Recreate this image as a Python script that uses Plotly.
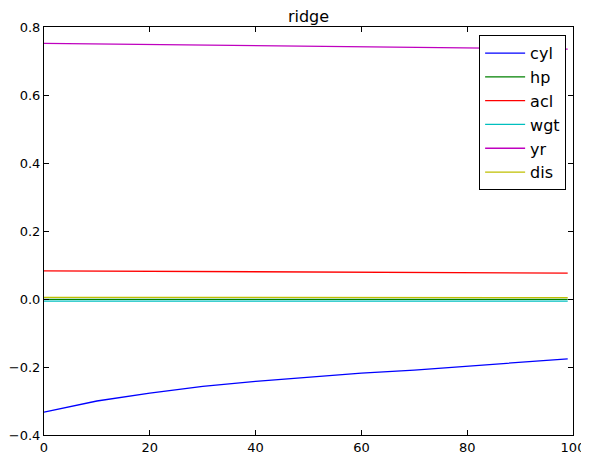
import plotly.graph_objects as go

x_cyl = [0, 10, 20, 30, 40, 50, 60, 70, 80, 90, 99]
cyl = [-0.333, -0.300, -0.277, -0.257, -0.242, -0.229, -0.218, -0.209, -0.198, -0.186, -0.176]

x_lin = [0, 99]
hp = [-0.001, -0.001]
acl = [0.083, 0.076]
wgt = [-0.006, -0.006]
yr = [0.752, 0.735]
dis = [0.005, 0.004]

names = ["cyl", "hp", "acl", "wgt", "yr", "dis"]
colors = ["#0000ff", "#008000", "#ff0000", "#00bfbf", "#bf00bf", "#bfbf00"]
xs = [x_cyl, x_lin, x_lin, x_lin, x_lin, x_lin]
ys = [cyl, hp, acl, wgt, yr, dis]

fig = go.Figure()
for n, c, xv, yv in zip(names, colors, xs, ys):
    fig.add_trace(go.Scatter(x=xv, y=yv, mode="lines", name=n,
                             line=dict(color=c, width=1.3)))

axis_common = dict(showgrid=False, zeroline=False, showline=True, linecolor="black",
                   linewidth=1, mirror="ticks", ticks="inside", ticklen=5,
                   tickcolor="black", automargin=False,
                   tickfont=dict(family="DejaVu Sans", size=13, color="black"))

# page body has an 8px margin, so figure is 8px smaller and margins compensate
W, H = 581, 447
fig.update_layout(
    width=W, height=H,
    margin=dict(l=36, r=16, t=19, b=20, autoexpand=False),
    paper_bgcolor="white", plot_bgcolor="white",
    title=dict(text="ridge", x=0.5, xref="paper", y=1 - 8.5 / H, yref="container",
               yanchor="middle", automargin=False,
               font=dict(family="DejaVu Sans", size=16, color="black")),
    xaxis=dict(range=[0, 100], tickvals=[0, 20, 40, 60, 80, 100], **axis_common),
    yaxis=dict(range=[-0.4, 0.8], tickvals=[-0.4, -0.2, 0, 0.2, 0.4, 0.6, 0.8],
               tickformat=".1f", **axis_common),
    legend=dict(x=0.987, y=0.98, xanchor="right", yanchor="top",
                bordercolor="black", borderwidth=1, bgcolor="white",
                itemwidth=40,
                font=dict(family="DejaVu Sans", size=16, color="black")),
    showlegend=True,
)

fig.write_html("out.html")
